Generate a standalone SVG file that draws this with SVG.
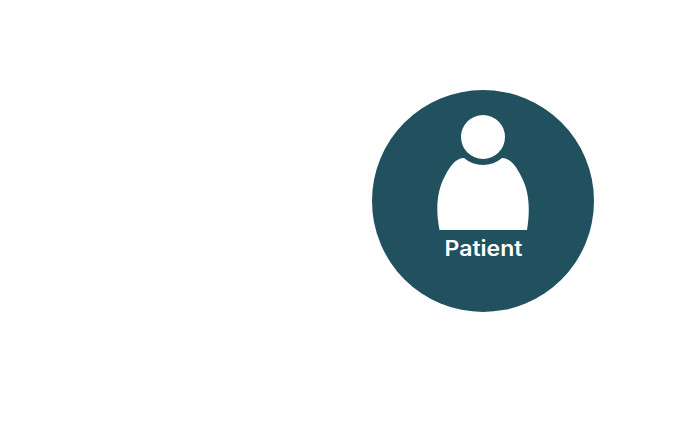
<svg xmlns="http://www.w3.org/2000/svg" width="700" height="435" viewBox="0 0 700 435">
<rect width="700" height="435" fill="#fff"/>
<g id="patient">
<circle cx="483" cy="201" r="111" fill="#21505f"/>
<circle cx="483" cy="137" r="22" fill="#fff"/>
<path d="M439.500 230C436 212 436 192 445 176C450 166 456 158 464 158A29 29 0 0 0 502 158C510 158 516 166 521 176C530 192 530 212 527 230Z" fill="#fff"/>
<text x="483.500" y="255.500" text-anchor="middle" font-family="Inter,'Open Sans',sans-serif" font-size="21" font-weight="600" fill="#fff" textLength="78" lengthAdjust="spacingAndGlyphs">Patient</text>
</g>
<g id="connectors"/>
</svg>
